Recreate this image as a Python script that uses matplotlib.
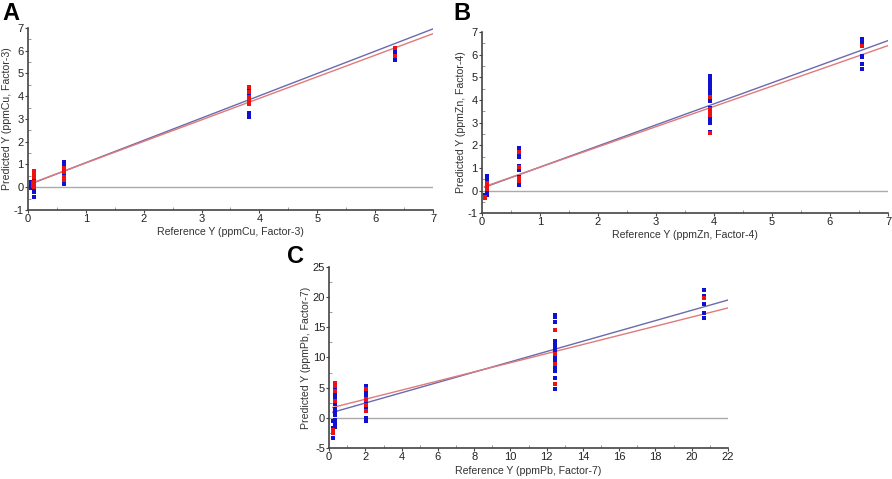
import numpy as np
import matplotlib
matplotlib.use("Agg")
import matplotlib.pyplot as plt
from matplotlib.ticker import MultipleLocator

plt.rcParams['font.family'] = ['Liberation Sans', 'DejaVu Sans']
plt.rcParams['axes.unicode_minus'] = False

# panel A (Cu) - calibration (blue) and validation (red) samples, ref -> predicted
a_blue = {0.05: [-0.05, 0.0, 0.05, 0.1, 0.15, 0.2, 0.25],
          0.1: [-0.45, -0.2, -0.1, 0.0, 0.1, 0.2, 0.3, 0.4, 0.5, 0.6],
          0.63: [0.15, 0.25, 0.35, 0.5, 0.6, 0.7, 0.8, 0.9, 1.0, 1.1],
          3.82: [3.1, 3.25, 3.75, 3.85, 3.95, 4.05, 4.15, 4.25, 4.35],
          6.35: [5.6, 5.9, 5.95, 6.1]}
a_red = {0.08: [0.05, 0.1, 0.2],
         0.1: [0.0, 0.15, 0.25, 0.45, 0.6, 0.7],
         0.63: [0.3, 0.45, 0.65, 0.85],
         3.82: [3.65, 3.7, 3.8, 3.95, 4.2, 4.4],
         6.35: [5.75, 6.1]}
a_fit_blue = (0.98, 0.1)   # slope, intercept
a_fit_red = (0.947, 0.12)

# panel B (Zn)
b_blue = {0.05: [-0.3, -0.25, -0.2],
          0.1: [-0.2, -0.1, 0.0, 0.1, 0.2, 0.3, 0.4, 0.5, 0.6, 0.65],
          0.65: [0.25, 0.35, 0.5, 0.6, 0.9, 1.1, 1.5, 1.65, 1.8, 1.9],
          3.93: [2.6, 3.0, 3.05, 3.15, 3.3, 3.5, 3.65, 3.95, 4.25, 4.35, 4.45, 4.6, 4.75, 4.85, 4.95, 5.05],
          6.55: [5.35, 5.6, 5.9, 5.95, 6.5, 6.7]}
b_red = {0.05: [-0.3, -0.35],
         0.1: [0.05, 0.15, 0.25, 0.35],
         0.65: [0.4, 0.55, 1.05, 1.7],
         3.93: [2.55, 3.35, 3.45, 3.6, 4.15],
         6.55: [6.4]}
b_fit_blue = (0.932, 0.1)
b_fit_red = (0.896, 0.13)

# panel C (Pb)
c_blue = {0.2: [-3.3, -1.7, -0.6],
          0.3: [-1.6, -1.2, -0.8, -0.3, 0.4, 1.0, 1.4, 2.3, 2.7, 3.2, 3.5, 3.8, 4.8],
          2.05: [-0.5, -0.1, 1.6, 2.0, 2.4, 2.7, 3.0, 3.3, 3.7, 4.0, 4.4, 4.9, 5.3],
          12.45: [4.8, 6.6, 7.7, 8.5, 9.0, 9.5, 10.2, 10.7, 11.2, 11.5, 11.7, 12.3, 12.7, 15.8, 16.7, 17.0],
          20.7: [16.6, 17.3, 18.9, 20.2, 21.2]}
c_red = {0.2: [-2.5, -2.0],
         0.3: [2.8, 4.5, 5.2, 5.8],
         2.05: [1.2, 2.1, 2.9, 3.2, 4.7],
         12.45: [5.6, 9.0, 10.6, 14.6],
         20.7: [19.9]}
c_fit_blue = (0.853, 0.75)
c_fit_red = (0.756, 1.57)

tick_col = '#222222'
spine_col = '#444444'


def to_xy(groups):
    xs, ys = [], []
    for ref, preds in groups.items():
        xs += [ref] * len(preds)
        ys += preds
    return np.array(xs), np.array(ys)


def draw_panel(ax, blue, red, fit_b, fit_r, xlim, ylim, xstep, ystep, metal, factor, x_start, ylab_x, xlab_y):
    ax.axhline(0, color='#aaaaaa', lw=1, zorder=1)
    xx = np.array([x_start, xlim[1]])
    ax.plot(xx, fit_b[0] * xx + fit_b[1], color='#6a6aae', lw=1, zorder=2)
    ax.plot(xx, fit_r[0] * xx + fit_r[1], color='#e07a7a', lw=1, zorder=2)
    bx, by = to_xy(blue)
    rx, ry = to_xy(red)
    ax.scatter(bx, by, s=6.5, marker='s', color='#1010d0', lw=0, zorder=3)
    ax.scatter(rx, ry, s=6.5, marker='s', color='#ee1111', lw=0, zorder=4)
    ax.set_xlim(*xlim)
    ax.set_ylim(*ylim)
    ax.xaxis.set_major_locator(MultipleLocator(xstep))
    ax.yaxis.set_major_locator(MultipleLocator(ystep))
    ax.xaxis.set_minor_locator(MultipleLocator(xstep / 2))
    ax.yaxis.set_minor_locator(MultipleLocator(ystep / 2))
    for s in ['top', 'right']:
        ax.spines[s].set_visible(False)
    for s in ['left', 'bottom']:
        ax.spines[s].set_color(spine_col)
        ax.spines[s].set_linewidth(1.2)
    ax.tick_params(which='major', length=2, width=0.8, color=spine_col,
                   labelsize=8, labelcolor=tick_col, pad=1)
    ax.tick_params(which='minor', length=2, width=0.6, color='#888888', direction='in')
    ax.set_xlabel(f'Reference Y (ppm{metal}, Factor-{factor})', fontsize=7.6, color='#333333')
    ax.set_ylabel(f'Predicted Y (ppm{metal}, Factor-{factor})', fontsize=7.6, color='#333333')
    ax.yaxis.set_label_coords(ylab_x, 0.5)
    ax.xaxis.set_label_coords(0.5, xlab_y)
    ax.yaxis.label.set_va('center')
    ax.xaxis.label.set_va('center')


fig = plt.figure(figsize=(8.92, 4.79), dpi=100)
ax_a = fig.add_axes([0.0314, 0.5616, 0.454, 0.38])
ax_b = fig.add_axes([0.540, 0.555, 0.4555, 0.378])
ax_c = fig.add_axes([0.369, 0.0647, 0.447, 0.378])

draw_panel(ax_a, a_blue, a_red, a_fit_blue, a_fit_red, (0, 7), (-1, 7), 1, 1, 'Cu', 3, 0.05, -0.053, -0.12)
draw_panel(ax_b, b_blue, b_red, b_fit_blue, b_fit_red, (0, 7), (-1, 7), 1, 1, 'Zn', 4, 0.05, -0.052, -0.12)
draw_panel(ax_c, c_blue, c_red, c_fit_blue, c_fit_red, (0, 22), (-5, 25), 2, 5, 'Pb', 7, 0.2, -0.058, -0.125)

fig.text(0.003, 0.995, 'A', fontsize=17, fontweight='bold', va='top', ha='left')
fig.text(0.508, 0.995, 'B', fontsize=17, fontweight='bold', va='top', ha='left')
fig.text(0.322, 0.488, 'C', fontsize=17, fontweight='bold', va='top', ha='left')

fig.savefig('out.png', dpi=100)
